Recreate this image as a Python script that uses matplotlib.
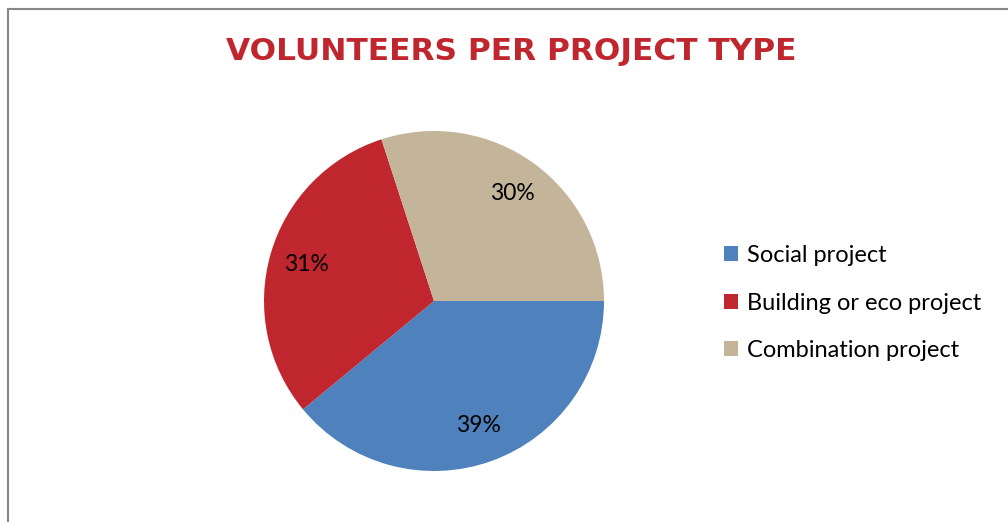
import matplotlib.pyplot as plt
from matplotlib.lines import Line2D

categories = ["Social project", "Building or eco project", "Combination project"]
shares = [39, 31, 30]
colors = ["#4F81BD", "#C0262E", "#C3B49A"]

W, H = 1008, 522
fig = plt.figure(figsize=(W / 100, H / 100), dpi=100)

# thin gray frame on left and top (chart area is cropped at right/bottom)
fig.add_artist(Line2D([7.5 / W, 7.5 / W], [0, 1 - 9 / H], color="#888888", lw=1.5))
fig.add_artist(Line2D([7.5 / W, 1], [1 - 9 / H, 1 - 9 / H], color="#888888", lw=1.5))

cx, cy, r = 434, 301, 170
ax = fig.add_axes([(cx - r) / W, (H - cy - r) / H, 2 * r / W, 2 * r / H])
wedges, texts, autotexts = ax.pie(
    shares, colors=colors, startangle=0, counterclock=False,
    autopct="%d%%", pctdistance=0.78,
    textprops=dict(family="Lato", fontsize=16.5, color="black"),
    wedgeprops=dict(linewidth=0),
)
ax.set_xlim(-1, 1)
ax.set_ylim(-1, 1)
ax.set_aspect("equal")

fig.text(511 / W, 1 - 51 / H, "VOLUNTEERS PER PROJECT TYPE", ha="center", va="center",
         fontsize=22.5, fontweight="bold", family="DejaVu Sans", color="#C0262E")

fig.legend(wedges, categories, loc="center left", bbox_to_anchor=(703 / W, 1 - 303 / H),
           frameon=False, prop=dict(family="Lato", size=17),
           handlelength=0.6, handleheight=0.6, handletextpad=0.35, labelspacing=1.13)

plt.savefig("out.png", dpi=100)
